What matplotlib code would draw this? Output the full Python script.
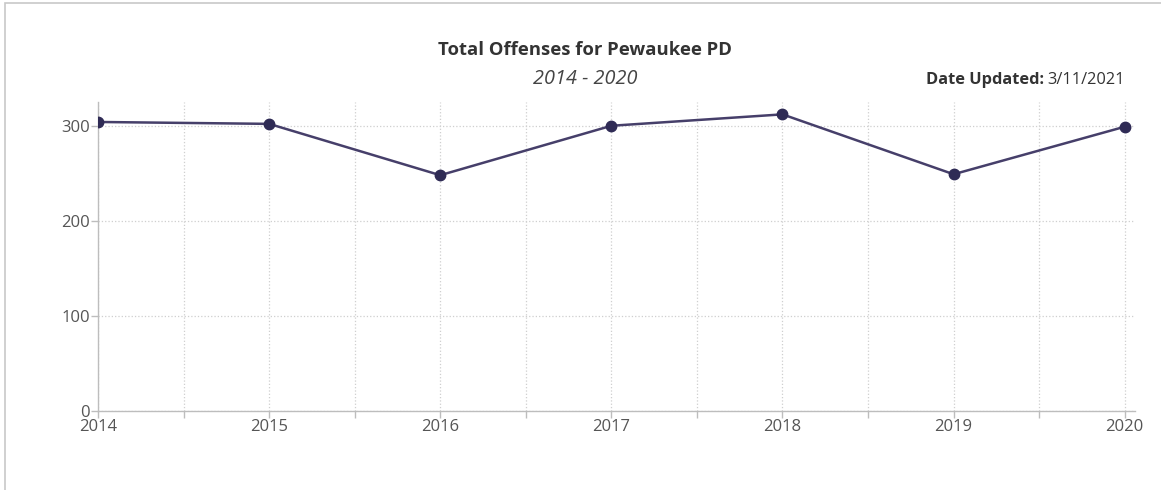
import matplotlib.pyplot as plt
import matplotlib.patches as patches
import numpy as np

years = [2014, 2015, 2016, 2017, 2018, 2019, 2020]
offenses = [304, 302, 248, 300, 312, 249, 299]

plt.rcParams['font.family'] = ['Open Sans', 'DejaVu Sans']

fig = plt.figure(figsize=(11.61, 4.90), dpi=100)

# outer panel border
fig.patches.append(patches.Rectangle((5 / 1161, -0.1), 1.2, 1.1 - 3 / 490,
                                     transform=fig.transFigure, fill=False,
                                     edgecolor='#c8c8c8', linewidth=1.2))

ax = fig.add_axes([98 / 1161, 79 / 490, (1135 - 98) / 1161, (411 - 102) / 490])
ax.set_facecolor('none')

ax.plot(years, offenses, color='#463f6a', linewidth=1.8, marker='o',
        markersize=7.5, markerfacecolor='#2f2b55', markeredgecolor='#2f2b55', zorder=3)

ax.set_xlim(2014, 2020.06)
ax.set_ylim(0, 325)

ax.set_xticks(years)
ax.set_xticklabels([str(y) for y in years])
ax.set_xticks(np.arange(2014.5, 2020, 1.0), minor=True)
ax.set_yticks([0, 100, 200, 300])

ax.grid(True, which='both', axis='x', color='#cfcfcf', linestyle=':', linewidth=0.9)
ax.grid(True, which='major', axis='y', color='#cfcfcf', linestyle=':', linewidth=0.9)
ax.set_axisbelow(True)

for side in ['top', 'right']:
    ax.spines[side].set_visible(False)
for side in ['left', 'bottom']:
    ax.spines[side].set_color('#bdbdbd')
    ax.spines[side].set_linewidth(1.0)

ax.tick_params(axis='both', which='both', colors='#bdbdbd', labelcolor='#555555',
               labelsize=12, length=5, width=1.0, pad=1)

fig.text(585 / 1161, 1 - 50 / 490, 'Total Offenses for Pewaukee PD', ha='center', va='center',
         fontsize=13.3, fontweight='bold', color='#333333')
fig.text(585 / 1161, 1 - 79 / 490, '2014 - 2020', ha='center', va='center',
         fontsize=14.3, fontstyle='italic', color='#444444')
date_txt = fig.text(1125 / 1161, 1 - 80 / 490, '3/11/2021', ha='right', va='center',
                    fontsize=11.8, color='#333333')
fig.canvas.draw()
r = fig.canvas.get_renderer()
bb = date_txt.get_window_extent(renderer=r)
fig.text(bb.x0 / fig.bbox.width - 0.003, 1 - 80 / 490, 'Date Updated:', ha='right', va='center',
         fontsize=11.8, fontweight='bold', color='#333333')

fig.savefig('out.png', dpi=100)
